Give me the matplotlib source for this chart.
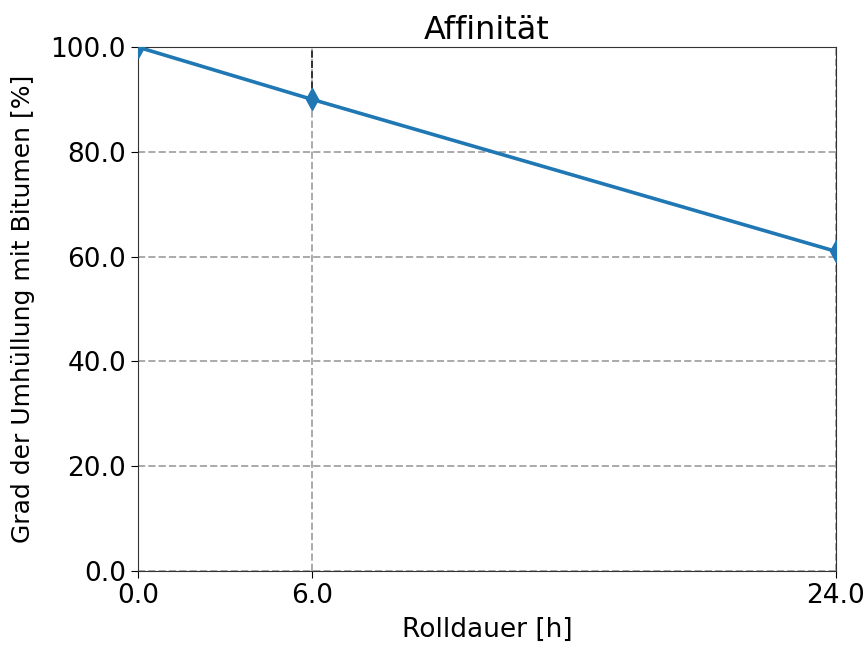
import matplotlib
matplotlib.use('Agg')
import matplotlib.pyplot as plt
from matplotlib.ticker import FormatStrFormatter

rolldauer = [0.0, 6.0, 24.0]
umhuellung = [100.0, 90.0, 61.0]
xticks = [0.0, 6.0, 24.0]
yticks = [0.0, 20.0, 40.0, 60.0, 80.0, 100.0]

fig = plt.figure(figsize=(8.67, 6.45), dpi=100)
ax = fig.add_axes([0.159, 0.115, 0.805, 0.812])

ax.plot(rolldauer, umhuellung, color='#1f77b4', linewidth=2.6,
        marker='d', markersize=11, zorder=3)
# dark dashed segment above the middle point
ax.vlines(rolldauer[1], umhuellung[1], 100.0, colors='#333333',
          linestyles='--', linewidth=1.4, zorder=2)

ax.grid(color='#aaaaaa', linestyle='--', linewidth=1.4)
ax.set_xlim(0, 24)
ax.set_ylim(0, 100)
ax.set_xticks(xticks)
ax.set_yticks(yticks)
ax.xaxis.set_major_formatter(FormatStrFormatter('%.1f'))
ax.yaxis.set_major_formatter(FormatStrFormatter('%.1f'))
ax.tick_params(labelsize=19, length=5)
for s in ax.spines.values():
    s.set_color('#333333')

ax.set_title('Affinität', fontsize=23)
ax.set_xlabel('Rolldauer [h]', fontsize=19, labelpad=6)
ax.set_ylabel('Grad der Umhüllung mit Bitumen [%]', fontsize=18, labelpad=11)

plt.savefig('out.png', dpi=100)
